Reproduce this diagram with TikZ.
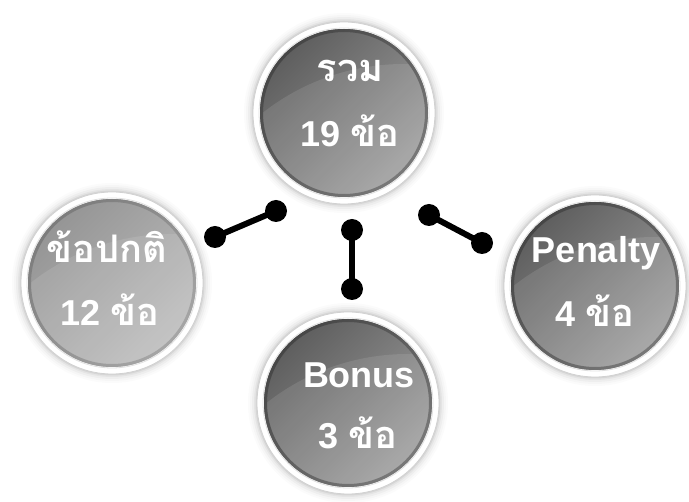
\documentclass[tikz,border=0pt]{standalone}
\usepackage{fontspec}
\setmainfont{Liberation Sans}
\newfontfamily\thaifont[Script=Thai]{Loma}
\definecolor{darkA}{HTML}{5E5E5E}
\definecolor{darkB}{HTML}{A0A0A0}
\definecolor{darkR}{HTML}{464646}
\definecolor{lightA}{HTML}{959595}
\definecolor{lightB}{HTML}{BEBEBE}
\definecolor{lightR}{HTML}{7C7C7C}
\tikzset{
  dot/.style={circle, fill=black, inner sep=0pt, minimum size=22pt},
  link/.style={line width=6pt, black},
  lbl/.style={text=white, font=\bfseries\fontsize{36}{36}\selectfont, anchor=base, inner sep=0pt},
  ringfill/.style={fill=white, draw=black!18, line width=0.8pt},
}
\newcommand\thai[1]{{\thaifont\bfseries\fontsize{38}{38}\selectfont #1}}
\newcommand\bubble[5]{%
  \coordinate (#1) at (#2,#3);
  \foreach \r/\o in {100/0.015,98/0.02,96/0.03,94/0.04,92.5/0.06}
    \fill[black, opacity=\o] (#1) circle[radius=\r pt];
  \path[ringfill] (#1) circle[radius=91pt];
  \draw[black!12, line width=0.8pt] (#1) circle[radius=85pt];
  \shade[top color=#4, bottom color=#5, shading angle=45] (#1) circle[radius=84pt];
  \begin{scope}
    \clip (#1) circle[radius=84pt];
    \fill[white, opacity=0.10, shift={(#1)}] (60,180) circle[radius=229pt];
  \end{scope}
}
\begin{document}
\begin{tikzpicture}[x=1pt,y=-1pt]
\useasboundingbox[fill=white] (0,0) rectangle (689,502);
% bubbles
\bubble{top}{344}{113}{darkA}{darkB}{}
\bubble{left}{112}{283}{lightA}{lightB}{}
\bubble{right}{595}{286}{darkA}{darkB}{}
\bubble{bottom}{348}{403}{darkA}{darkB}{}
% rims
\shade[even odd rule, top color=darkR, bottom color=darkA!60!darkB, shading angle=45] (top) circle[radius=84pt] (top) circle[radius=81pt];
\shade[even odd rule, top color=darkR, bottom color=darkA!60!darkB, shading angle=45] (right) circle[radius=84pt] (right) circle[radius=81pt];
\shade[even odd rule, top color=darkR, bottom color=darkA!60!darkB, shading angle=45] (bottom) circle[radius=84pt] (bottom) circle[radius=81pt];
\shade[even odd rule, top color=lightR, bottom color=lightA!60!lightB, shading angle=45] (left) circle[radius=84pt] (left) circle[radius=81pt];
% labels
\node[lbl] (t1) at (350,82) {\thai{รวม}};
\node[lbl] (t2) at (350,147) {19 \thai{ข้อ}};
\node[lbl] (l1) at (107,263) {\thai{ข้อปกติ}};
\node[lbl] (l2) at (110,326) {12 \thai{ข้อ}};
\node[lbl] (r1) at (596,263) {Penalty};
\node[lbl] (r2) at (595,327) {4 \thai{ข้อ}};
\node[lbl] (b1) at (359,388) {Bonus};
\node[lbl] (b2) at (358,449) {3 \thai{ข้อ}};
% connectors
\node[dot] (la) at (215,237) {};
\node[dot] (lb) at (276,211) {};
\node[dot] (ma) at (352,230) {};
\node[dot] (mb) at (352,289) {};
\node[dot] (ra) at (429,215) {};
\node[dot] (rb) at (482,243) {};
\draw[link] (la.center) -- (lb.center);
\draw[link] (ma.center) -- (mb.center);
\draw[link] (ra.center) -- (rb.center);
\end{tikzpicture}
\end{document}
